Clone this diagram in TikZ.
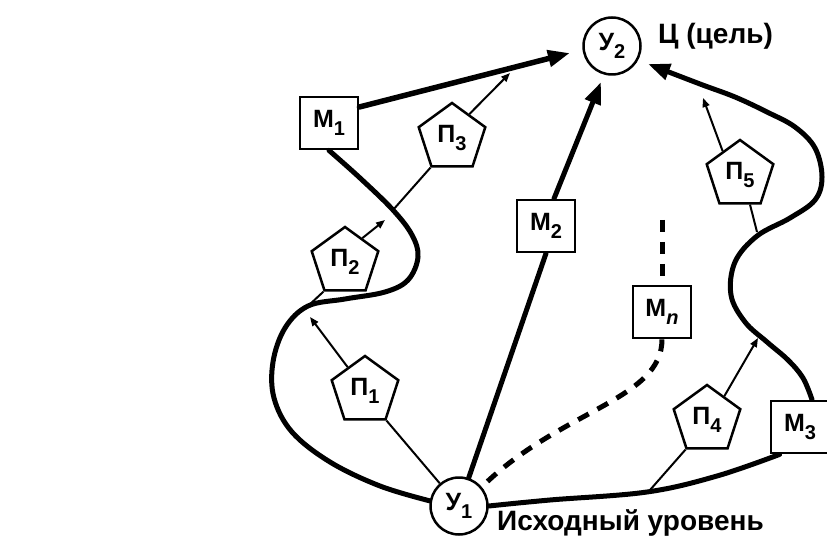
\documentclass[tikz,border=0pt]{standalone}
\usepackage{fontspec}
\setmainfont{Liberation Sans}
\usetikzlibrary{arrows.meta,shapes.geometric}
\newcommand\lowidx[1]{\raisebox{-0.3em}{\fontsize{20}{20}\selectfont #1}}
\begin{document}
\begin{tikzpicture}[x=1pt,y=-1pt,
  lbl/.style={font=\fontsize{25}{27}\selectfont\bfseries},
  state/.style={circle,draw,line width=2.5pt,minimum size=57pt,inner sep=0pt,lbl},
  method/.style={rectangle,draw,line width=2.8pt,minimum width=58pt,minimum height=52pt,inner sep=0pt,lbl},
  prop/.style={regular polygon,regular polygon sides=5,draw,line width=2.5pt,minimum size=70pt,inner sep=0pt,lbl},
  route/.style={line width=5pt,line cap=round,line join=round},
  link/.style={line width=2pt},
  bigtip/.style={-{Triangle[length=22pt,width=16pt]}},
  smalltip/.style={-{Triangle[length=9pt,width=7pt]}},
  caption/.style={font=\fontsize{28}{30}\selectfont\bfseries,inner sep=0pt,anchor=base west}
]
\useasboundingbox (0,0) rectangle (827,537);

% states
\node[state] (U2) at (612,46) {У\lowidx{2}};
\node[state] (U1) at (459,506) {У\lowidx{1}};
\node[caption] (goal) at (658,44) {Ц (цель)};
\node[caption] (start) at (497,530) {Исходный уровень};

% methods
\node[method] (M1) at (329,123) {М\lowidx{1}};
\node[method] (M2) at (546,226) {М\lowidx{2}};
\node[method] (Mn) at (662,312) {М\lowidx{\itshape n}};
\node[method] (M3) at (800,427) {М\lowidx{3}};

% pentagons
\node[prop] (P1) at (365,391) {П\lowidx{1}};
\node[prop] (P2) at (345,262) {П\lowidx{2}};
\node[prop] (P3) at (452,138) {П\lowidx{3}};
\node[prop] (P4) at (707,420) {П\lowidx{4}};
\node[prop] (P5) at (740,175) {П\lowidx{5}};

% helper coordinates
\coordinate (c2) at (308,306);
\coordinate (c3) at (393,210);
\coordinate (c4) at (650,490);
\coordinate (c5) at (757,232);
\coordinate (a1) at (310,317);
\coordinate (a2) at (385,220);
\coordinate (a3) at (510,73);
\coordinate (a4) at (758,338);
\coordinate (a5) at (703,98);
\coordinate (dtop) at (662,220);
\coordinate (tipL) at (570,53);
\coordinate (tipM) at (601,82);
\coordinate (tipR) at (648,64);

% left route via M1
\draw[route] plot[smooth,tension=0.6] coordinates {(M1.south) (360,178) (393,210) (412,235) (418,257) (408,280) (385,292) (345,299) (308,306) (285,328) (273,362) (274,398) (292,432) (330,462) (380,486) (U1.170)};
\draw[route,line width=5.5pt,bigtip] ([yshift=16pt]M1.east) -- (tipL);

% middle route via M2
\draw[route] (U1) -- (M2.south);
\draw[route,bigtip] ([xshift=8pt]M2.north) -- (tipM);

% dashed route via Mn
\draw[line width=5pt,dash pattern=on 12pt off 10pt] (dtop) -- (Mn.north);
\draw[line width=5pt,dash pattern=on 12pt off 10pt] (Mn.south) .. controls (662,400) and (560,410) .. (U1.40);

% right route via M3
\draw[route] plot[smooth,tension=0.6] coordinates {(U1.east) (550,500) (647,492) (717,476) ([xshift=10pt]M3.south west)};
\draw[route,bigtip] plot[smooth,tension=0.6] coordinates {([xshift=12pt]M3.north) (803,378) (788,360) (767,342) (745,322) (731,295) (735,262) (757,236) (790,218) (815,200) (822,177) (815,148) (795,127) (767,112) (735,97) (700,84) (tipR)};

% thin links
\draw[link] (P1.corner 4) -- (U1);
\draw[link,smalltip] (P1.side 1) -- (a1);
\draw[link] (P2.corner 3) -- (c2);
\draw[link,smalltip] (P2.side 5) -- (a2);
\draw[link] (P3.corner 3) -- (c3);
\draw[link,smalltip] (P3.side 5) -- (a3);
\draw[link] (P4.corner 3) -- (c4);
\draw[link,smalltip] (P4.side 5) -- (a4);
\draw[link] ([xshift=10pt]P5.side 3) -- (c5);
\draw[link,smalltip] (P5.side 1) -- (a5);
\end{tikzpicture}
\end{document}
